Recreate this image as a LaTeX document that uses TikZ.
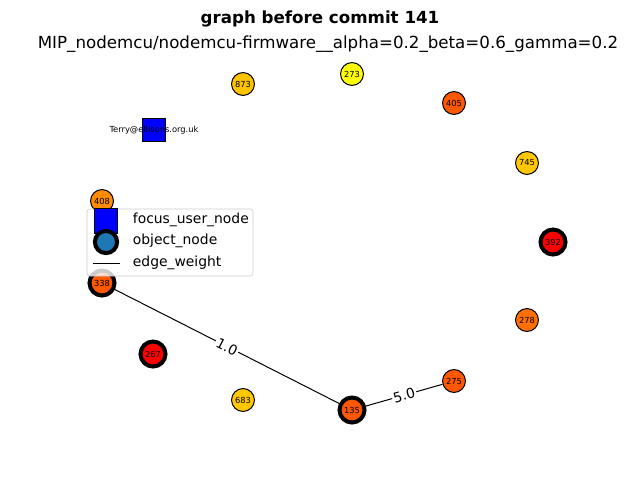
\documentclass[tikz,border=0pt]{standalone}
\usepackage{fontspec}
\setmainfont{DejaVu Sans}
\begin{document}
\begin{tikzpicture}[x=0.72pt,y=-0.72pt,
  obj/.style={circle,draw=black,line width=0.72pt,minimum size=16.5pt,inner sep=0pt,font=\fontsize{6}{7}\selectfont},
  objthick/.style={obj,line width=2.9pt,minimum size=18pt},
  edge/.style={draw=black,line width=0.72pt},
  elabel/.style={fill=white,inner sep=1pt,font=\fontsize{10}{12}\selectfont,sloped}]
\useasboundingbox (0,0) rectangle (640,480);
\definecolor{cA}{RGB}{255,196,0}
\definecolor{cB}{RGB}{255,255,0}
\definecolor{cC}{RGB}{255,88,0}
\definecolor{cD}{RGB}{255,200,0}
\definecolor{cE}{RGB}{255,0,0}
\definecolor{cF}{RGB}{255,112,0}
\definecolor{cG}{RGB}{255,140,0}
\definecolor{mplblue}{RGB}{31,119,180}

\node (title) at (320,19) {\fontsize{12}{14}\selectfont\bfseries graph before commit 141};
\node (sub) at (328,44) {\fontsize{12}{14}\selectfont MIP\_nodemcu/nodemcu-firmware\_\_alpha=0.2\_beta=0.6\_gamma=0.2};

\node[obj,fill=cA] (n873) at (243,84) {873};
\node[obj,fill=cB] (n273) at (352,74) {273};
\node[obj,fill=cC] (n405) at (454,103) {405};
\node[obj,fill=cD] (n745) at (527,163) {745};
\node[objthick,fill=cE] (n392) at (553,242) {392};
\node[obj,fill=cF] (n278) at (527,320) {278};
\node[obj,fill=cC] (n275) at (454,381) {275};
\node[objthick,fill=cC] (n135) at (352,410) {135};
\node[obj,fill=cD] (n683) at (243,400) {683};
\node[objthick,fill=cE] (n267) at (153,354) {267};
\node[objthick,fill=cC] (n338) at (102,283) {338};
\node[obj,fill=cG] (n408) at (102,201) {408};

\node[draw=black,line width=0.72pt,fill=blue,minimum size=16.5pt,inner sep=0pt] (focus) at (154,130) {};
\node[font=\fontsize{6}{7}\selectfont] (focuslbl) at (154,130) {Terry@ellisons.org.uk};

\draw[edge] (n338) -- node[elabel] (l1) {1.0} (n135);
\draw[edge] (n135) -- node[elabel] (l2) {5.0} (n275);

% legend
\node[draw=black!20,fill=white,fill opacity=0.8,rounded corners=2pt,minimum width=166*0.72pt,minimum height=67*0.72pt,inner sep=0pt] (legend) at (170,242.5) {};
\node[draw=black,line width=0.72pt,fill=blue,minimum width=16pt,minimum height=18pt,inner sep=0pt] (lg1) at (106,221) {};
\node[circle,draw=black,line width=2.9pt,fill=mplblue,minimum size=16pt,inner sep=0pt] (lg2) at (106,242) {};
\coordinate (lg3a) at (93,263);
\coordinate (lg3b) at (120,263);
\draw[edge] (lg3a) -- (lg3b);
\node[anchor=west,font=\fontsize{10}{12}\selectfont] (lt1) at (128,220) {focus\_user\_node};
\node[anchor=west,font=\fontsize{10}{12}\selectfont] (lt2) at (128,241) {object\_node};
\node[anchor=west,font=\fontsize{10}{12}\selectfont] (lt3) at (128,263) {edge\_weight};
\end{tikzpicture}
\end{document}
